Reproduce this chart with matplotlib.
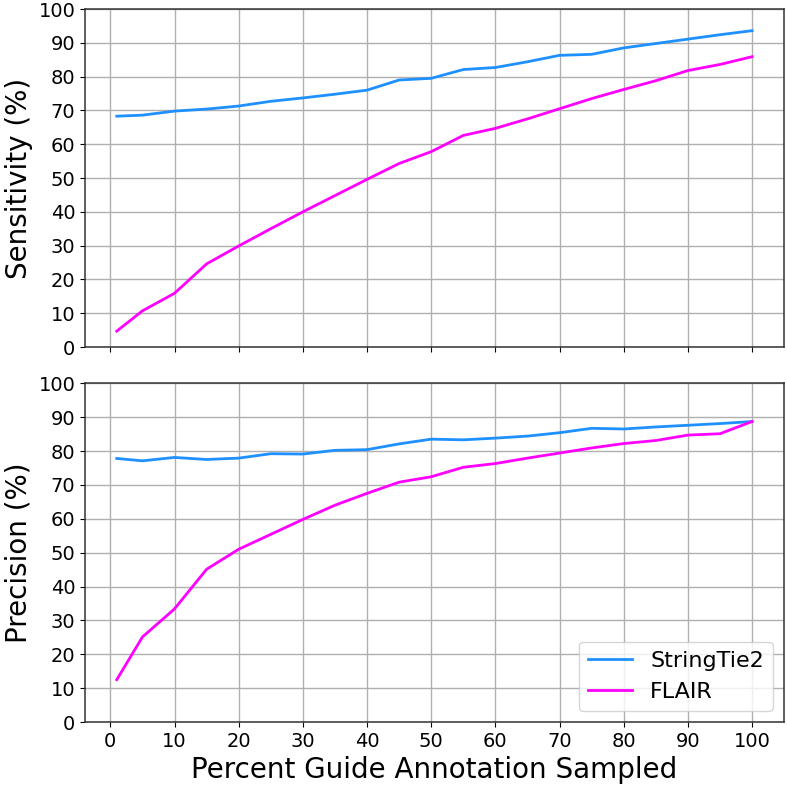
import matplotlib
matplotlib.use("Agg")
import matplotlib.pyplot as plt

x = [1, 5, 10, 15, 20, 25, 30, 35, 40, 45, 50, 55, 60, 65, 70, 75, 80, 85, 90, 95, 100]

sens_stringtie = [68.3, 68.6, 69.8, 70.4, 71.3, 72.7, 73.7, 74.8, 76.0, 79.0, 79.5,
                  82.1, 82.7, 84.4, 86.3, 86.6, 88.5, 89.8, 91.1, 92.4, 93.6]
sens_flair = [4.7, 10.7, 15.9, 24.6, 29.9, 35.0, 40.0, 44.8, 49.6, 54.3, 57.8,
              62.6, 64.7, 67.5, 70.5, 73.5, 76.2, 78.8, 81.8, 83.6, 85.9]

prec_stringtie = [77.8, 77.1, 78.1, 77.5, 77.9, 79.2, 79.1, 80.2, 80.4, 82.1, 83.5,
                  83.3, 83.8, 84.4, 85.4, 86.7, 86.5, 87.1, 87.6, 88.1, 88.7]
prec_flair = [12.5, 25.1, 33.4, 45.1, 51.0, 55.4, 59.8, 64.0, 67.5, 70.8, 72.4,
              75.2, 76.3, 77.9, 79.4, 80.9, 82.2, 83.1, 84.7, 85.1, 88.7]

labels = ["StringTie2", "FLAIR"]
colors = ["#1E90FF", "#FF00FF"]

fig = plt.figure(figsize=(7.87, 7.86), dpi=100)
ax1 = fig.add_axes([0.108, 0.5585, 0.888, 0.430])
ax2 = fig.add_axes([0.108, 0.0814, 0.888, 0.431], sharex=ax1)

ax1.plot(x, sens_stringtie, color=colors[0], lw=2, label=labels[0])
ax1.plot(x, sens_flair, color=colors[1], lw=2, label=labels[1])
ax2.plot(x, prec_stringtie, color=colors[0], lw=2, label=labels[0])
ax2.plot(x, prec_flair, color=colors[1], lw=2, label=labels[1])

for ax in (ax1, ax2):
    ax.set_ylim(0, 100)
    ax.set_yticks(range(0, 101, 10))
    ax.set_xticks(range(0, 101, 10))
    ax.grid(True, color="#b0b0b0", lw=1)
    ax.tick_params(labelsize=14)
    for s in ax.spines.values():
        s.set_color("#333333")
        s.set_linewidth(1.1)

plt.setp(ax1.get_xticklabels(), visible=False)
ax1.set_ylabel("Sensitivity (%)", fontsize=20)
ax2.set_ylabel("Precision (%)", fontsize=20)
ax2.set_xlabel("Percent Guide Annotation Sampled", fontsize=20)
ax2.legend(loc="lower right", fontsize=16)

fig.savefig("out.png", dpi=100)
